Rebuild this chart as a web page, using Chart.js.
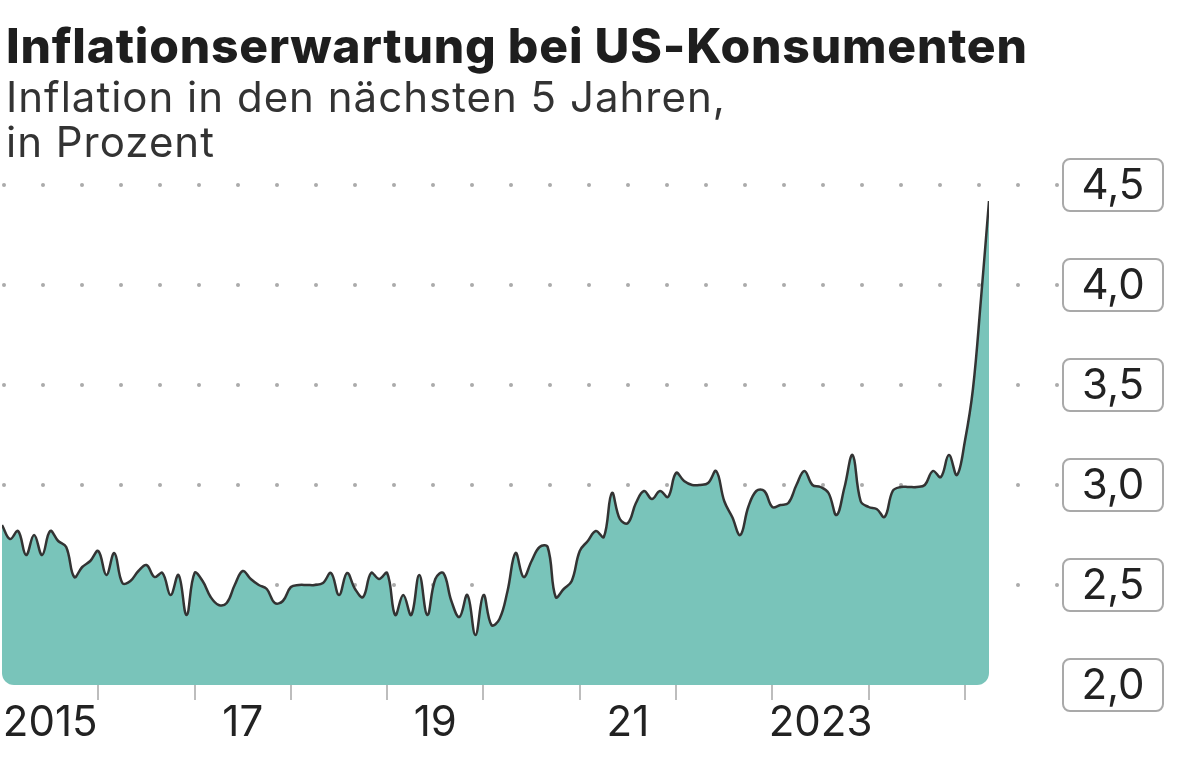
<!DOCTYPE html>
<html>
<head>
<meta charset="utf-8">
<script src="https://cdn.jsdelivr.net/npm/chart.js@4.4.1/dist/chart.umd.min.js"></script>
<style>
  html, body { margin: 0; padding: 0; background: #fff; }
  #wrap { width: 1200px; height: 765px; }
</style>
</head>
<body>
<div id="wrap"><canvas id="chart"></canvas></div>
<script>
const titleText = "Inflationserwartung bei US-Konsumenten";
const subtitleLines = ["Inflation in den nächsten 5 Jahren,", "in Prozent"];

// monthly values, Jan 2015 .. Apr 2025
const values = [
  2.80, 2.73, 2.77, 2.65, 2.75, 2.65, 2.77, 2.72, 2.69, 2.54, 2.59, 2.62,
  2.67, 2.55, 2.66, 2.51, 2.52, 2.57, 2.60, 2.54, 2.56, 2.45, 2.55, 2.35,
  2.56, 2.52, 2.44, 2.40, 2.41, 2.50, 2.57, 2.53, 2.50, 2.48, 2.41, 2.42,
  2.49, 2.50, 2.50, 2.50, 2.51, 2.56, 2.45, 2.56, 2.48, 2.44, 2.56, 2.53,
  2.56, 2.35, 2.45, 2.35, 2.55, 2.35, 2.53, 2.56, 2.42, 2.34, 2.45, 2.25,
  2.45, 2.30, 2.33, 2.47, 2.66, 2.54, 2.62, 2.69, 2.69, 2.44, 2.48, 2.52,
  2.67, 2.72, 2.77, 2.74, 2.96, 2.83, 2.81, 2.91, 2.97, 2.93, 2.97, 2.94,
  3.06, 3.02, 3.00, 3.00, 3.01, 3.07, 2.92, 2.84, 2.75, 2.89, 2.97, 2.97,
  2.89, 2.90, 2.91, 3.00, 3.07, 3.00, 2.99, 2.96, 2.85, 2.99, 3.15, 2.92,
  2.89, 2.88, 2.84, 2.97, 2.99, 2.99, 2.99, 3.00, 3.07, 3.04, 3.15, 3.05,
  3.22, 3.48, 3.93, 4.42
];
const months = values.map((v, i) =>
  (2015 + Math.floor(i / 12)) + "-" + String(i % 12 + 1).padStart(2, "0"));

const xLabelMonths = ["2015-07", "2017-07", "2019-07", "2021-07", "2023-07"];
const xLabelTexts = ["2015", "17", "19", "21", "2023"];
const yTickValues = [2.0, 2.5, 3.0, 3.5, 4.0, 4.5];
const yTickLabels = ["2,0", "2,5", "3,0", "3,5", "4,0", "4,5"];

const fontFamily = "Inter, 'Noto Sans', sans-serif";

const decor = {
  id: "decor",
  beforeDatasetsDraw(chart) {
    const { ctx, chartArea, scales } = chart;
    // dotted grid lines
    ctx.save();
    ctx.fillStyle = "#ababab";
    yTickValues.forEach(v => {
      if (v === 2.0) return;
      const y = scales.y.getPixelForValue(v);
      for (let x = chartArea.left + 2; x < chartArea.right + 70; x += 39) {
        ctx.beginPath();
        ctx.arc(x, y, 2, 0, Math.PI * 2);
        ctx.fill();
      }
    });
    ctx.restore();
    // rounded bottom corners for the area
    const left = scales.x.getPixelForValue(0);
    const right = scales.x.getPixelForValue(values.length - 1);
    ctx.save();
    ctx.beginPath();
    ctx.roundRect(left, 0, right - left, chartArea.bottom, [0, 0, 12, 12]);
    ctx.clip();
  },
  afterDatasetsDraw(chart) {
    chart.ctx.restore();
  },
  afterDraw(chart) {
    const { ctx, chartArea, scales } = chart;
    ctx.save();
    // headline
    ctx.textAlign = "left";
    ctx.textBaseline = "alphabetic";
    ctx.fillStyle = "#1e1e1e";
    ctx.font = "800 48px " + fontFamily;
    ctx.letterSpacing = "0.8px";
    ctx.fillText(titleText, 6, 63);
    ctx.fillStyle = "#333";
    ctx.font = "400 42px " + fontFamily;
    ctx.letterSpacing = "1px";
    subtitleLines.forEach((line, i) => ctx.fillText(line, 6, 112 + i * 45));
    ctx.letterSpacing = "0px";
    // boxed y labels
    const bx = chartArea.right + 74;
    yTickValues.forEach((v, i) => {
      const y = scales.y.getPixelForValue(v);
      ctx.beginPath();
      ctx.roundRect(bx, y - 26, 100, 52, 7);
      ctx.fillStyle = "#fff";
      ctx.fill();
      ctx.lineWidth = 2;
      ctx.strokeStyle = "#a9a9a9";
      ctx.stroke();
      ctx.fillStyle = "#222";
      ctx.font = "400 42px " + fontFamily;
      ctx.textAlign = "center";
      ctx.textBaseline = "middle";
      ctx.fillText(yTickLabels[i], bx + 50, y + 1);
    });
    ctx.restore();
  }
};

new Chart(document.getElementById("chart"), {
  type: "line",
  data: {
    labels: months,
    datasets: [{
      data: values,
      borderColor: "#333",
      borderWidth: 2.5,
      backgroundColor: "#79c4ba",
      fill: "start",
      pointRadius: 0,
      tension: 0.4
    }]
  },
  options: {
    responsive: true,
    maintainAspectRatio: false,
    animation: false,
    layout: { padding: { top: 185, left: 0, right: 0, bottom: 0 } },
    plugins: {
      legend: { display: false },
      tooltip: { enabled: false },
      title: { display: false }
    },
    scales: {
      x: {
        type: "category",
        offset: false,
        border: { display: false },
        grid: {
          drawOnChartArea: false,
          drawTicks: true,
          tickLength: 15,
          lineWidth: 2,
          color: c => (c.index > 0 && c.index % 12 === 0) ? "#bdbdbd" : "rgba(0,0,0,0)"
        },
        ticks: {
          autoSkip: false,
          maxRotation: 0,
          minRotation: 0,
          padding: 2,
          color: "#222",
          font: { family: fontFamily, size: 42, lineHeight: 1 },
          callback: (val, idx) => {
            const k = xLabelMonths.indexOf(months[idx]);
            return k >= 0 ? xLabelTexts[k] : "";
          }
        },
        afterFit: s => { s.height = 80; }
      },
      y: {
        position: "right",
        min: 2,
        max: 4.5,
        border: { display: false },
        grid: { display: false },
        ticks: { display: false, stepSize: 0.5 },
        afterFit: s => { s.width = 211; }
      }
    }
  },
  plugins: [decor]
});
</script>
</body>
</html>
